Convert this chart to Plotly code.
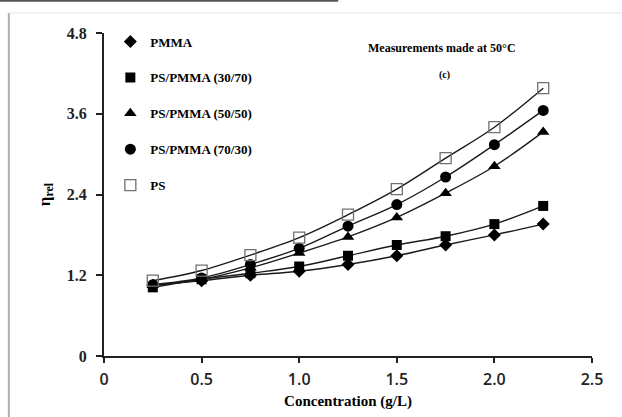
import plotly.graph_objects as go

conc = [0.25, 0.5, 0.75, 1.0, 1.25, 1.5, 1.75, 2.0, 2.25]
pmma = [1.05, 1.12, 1.20, 1.26, 1.36, 1.49, 1.65, 1.80, 1.96]
ps_pmma_30_70 = [1.02, 1.14, 1.23, 1.33, 1.49, 1.65, 1.78, 1.96, 2.23]
ps_pmma_50_50 = [1.05, 1.14, 1.31, 1.53, 1.77, 2.06, 2.42, 2.82, 3.33]
ps_pmma_70_30 = [1.06, 1.16, 1.36, 1.60, 1.93, 2.25, 2.66, 3.14, 3.65]
ps = [1.12, 1.27, 1.50, 1.76, 2.10, 2.48, 2.94, 3.40, 3.98]

series = [
    ("PMMA", pmma, dict(symbol="diamond", size=10, color="black")),
    ("PS/PMMA (30/70)", ps_pmma_30_70, dict(symbol="square", size=10, color="black")),
    ("PS/PMMA (50/50)", ps_pmma_50_50, dict(symbol="triangle-up", size=11, color="black")),
    ("PS/PMMA (70/30)", ps_pmma_70_30, dict(symbol="circle", size=11, color="black")),
    ("PS", ps, dict(symbol="square-open", size=11, color="#707070", line=dict(width=1.3))),
]

fig = go.Figure()
for name, vals, mk in series:
    fig.add_trace(go.Scatter(x=conc, y=vals, mode="lines", line=dict(color="#1a1a1a", width=1.4, shape="spline"),
                             showlegend=False, hoverinfo="skip"))
for i, (name, vals, mk) in enumerate(series):
    fig.add_trace(go.Scatter(x=conc, y=vals, mode="markers", name=name, marker=mk, legendgroup=str(i)))

fig.update_layout(
    width=622, height=417,
    margin=dict(l=104, r=30, t=33, b=61, autoexpand=False),
    plot_bgcolor="white", paper_bgcolor="white",
    showlegend=True,
    legend=dict(x=0.013, y=1.02, xanchor="left", yanchor="top", bgcolor="rgba(0,0,0,0)",
                font=dict(family="Liberation Serif", size=13, color="black", weight="bold"),
                tracegroupgap=16, itemwidth=30),
    xaxis=dict(range=[0, 2.5], tickvals=[0, 0.5, 1.0, 1.5, 2.0, 2.5], ticktext=["0", "0.5", "1.0", "1.5", "2.0", "2.5"],
               showline=True, linecolor="#222222", linewidth=2, ticks="outside", ticklen=5, tickwidth=2, tickcolor="#222222",
               showgrid=False, zeroline=False, ticklabelstandoff=3, automargin=False,
               tickfont=dict(family="Open Sans", size=16, color="#222222", weight=600),
               title=dict(text="Concentration (g/L)", font=dict(family="Liberation Serif", size=15, color="black", weight="bold"), standoff=6)),
    yaxis=dict(range=[0, 4.8], tickvals=[0, 1.2, 2.4, 3.6, 4.8], ticktext=["0", "1.2", "2.4", "3.6", "4.8"],
               showline=True, linecolor="#222222", linewidth=2, ticks="outside", ticklen=6, tickwidth=2, tickcolor="#222222",
               showgrid=False, zeroline=False, ticklabelstandoff=6, automargin=False,
               tickfont=dict(family="Liberation Serif", size=16, color="#222222", weight="bold"),
               title=dict(text="η<sub>rel</sub>", font=dict(family="Liberation Serif", size=17, color="black", weight="bold"), standoff=12)),
    annotations=[
        dict(text="Measurements made at 50°C", x=0.537, y=0.955, xref="paper", yref="paper", xanchor="left",
             yanchor="middle", showarrow=False, font=dict(family="Liberation Serif", size=12, color="black", weight="bold")),
        dict(text="(c)", x=0.697, y=0.87, xref="paper", yref="paper", xanchor="center",
             yanchor="middle", showarrow=False, font=dict(family="Liberation Serif", size=10, color="black", weight="bold")),
    ],
    shapes=[
        dict(type="line", xref="paper", yref="paper", x0=-0.195, x1=-0.195, y0=1.062, y1=-0.2, line=dict(color="#b0b0b0", width=2)),
        dict(type="line", xref="paper", yref="paper", x0=-0.195, x1=1.07, y0=1.062, y1=1.062, line=dict(color="#e6e6e6", width=1)),
        dict(type="line", xref="paper", yref="paper", x0=-0.215, x1=0.48, y0=1.10, y1=1.10, line=dict(color="#555555", width=2)),
    ],
)

fig.write_html("out.html")
